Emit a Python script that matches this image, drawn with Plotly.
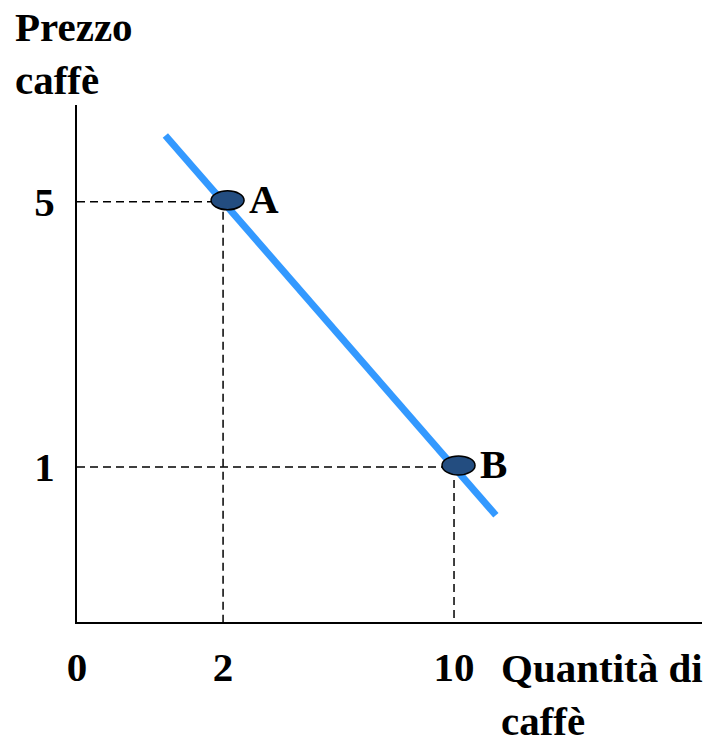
import plotly.graph_objects as go

# Demand curve for coffee: two highlighted points on it
point_labels = ["A", "B"]
quantities = [2, 10]
prices = [5, 1]

# endpoints of the drawn demand line (P = 6 - 0.5 Q)
demand_q = [0, 11.45]
demand_p = [6.0, 0.27]

x_ticktext = ["0", "2", "10"]
y_ticktext = ["5", "1"]

X_RANGE = [-3.06, 18.59]
Y_RANGE = [-1.34, 6.46]

FONT = "Times New Roman, Liberation Serif, serif"
LINE_BLUE = "#3399FF"
DOT_BLUE = "#234D80"

fig = go.Figure()

# dashed guides from the axes to each point
for q, p in zip(quantities, prices):
    fig.add_trace(
        go.Scatter(
            x=[X_RANGE[0], q, q],
            y=[p, p, Y_RANGE[0]],
            mode="lines",
            line=dict(color="#000000", width=1.5, dash="8px,5px"),
            hoverinfo="skip",
            showlegend=False,
        )
    )

# the demand line
fig.add_trace(
    go.Scatter(
        x=demand_q,
        y=demand_p,
        mode="lines",
        line=dict(color=LINE_BLUE, width=7),
        showlegend=False,
    )
)

# elliptical dots and their letters
for label, q, p in zip(point_labels, quantities, prices):
    fig.add_shape(
        type="circle",
        xref="x",
        yref="y",
        xsizemode="pixel",
        ysizemode="pixel",
        xanchor=q,
        yanchor=p,
        x0=-12,
        x1=21,
        y0=-8,
        y1=11,
        fillcolor=DOT_BLUE,
        line=dict(color="#000000", width=1.5),
        layer="above",
    )
    fig.add_annotation(
        x=q,
        y=p,
        text=f"<b>{label}</b>",
        showarrow=False,
        xanchor="left",
        yanchor="middle",
        xshift=24,
        yshift=3,
        font=dict(family=FONT, size=41, color="#000000"),
    )

# axis titles
fig.add_annotation(
    xref="paper",
    yref="paper",
    x=-0.103,
    y=1.2,
    text="<b>Prezzo<br>caffè</b>",
    showarrow=False,
    xanchor="left",
    yanchor="top",
    align="left",
    font=dict(family=FONT, size=41, color="#000000"),
)
fig.add_annotation(
    xref="paper",
    yref="paper",
    x=0.675,
    y=-0.04,
    text="<b>Quantità di<br>caffè</b>",
    showarrow=False,
    xanchor="left",
    yanchor="top",
    align="left",
    font=dict(family=FONT, size=41, color="#000000"),
)

fig.update_layout(
    width=720,
    height=752,
    margin=dict(l=77, r=18, t=105, b=130, pad=0),
    plot_bgcolor="#FFFFFF",
    paper_bgcolor="#FFFFFF",
    font=dict(family=FONT, size=41, color="#000000"),
    xaxis=dict(
        range=X_RANGE,
        automargin=False,
        showgrid=False,
        zeroline=False,
        showline=True,
        linecolor="#000000",
        linewidth=2,
        ticks="",
        tickvals=[X_RANGE[0]] + quantities,
        ticktext=[f"<b>{t}</b>" for t in x_ticktext],
        ticklabelstandoff=8,
    ),
    yaxis=dict(
        range=Y_RANGE,
        automargin=False,
        showgrid=False,
        zeroline=False,
        showline=True,
        linecolor="#000000",
        linewidth=2,
        ticks="",
        tickvals=prices,
        ticktext=[f"<b>{t}</b>" for t in y_ticktext],
        ticklabelstandoff=12,
    ),
)

# drop the default 8px page margin so the figure sits at the window corner
fig.write_html(
    "out.html",
    config={"displayModeBar": False},
    post_script="document.body.style.margin = '0';",
)
